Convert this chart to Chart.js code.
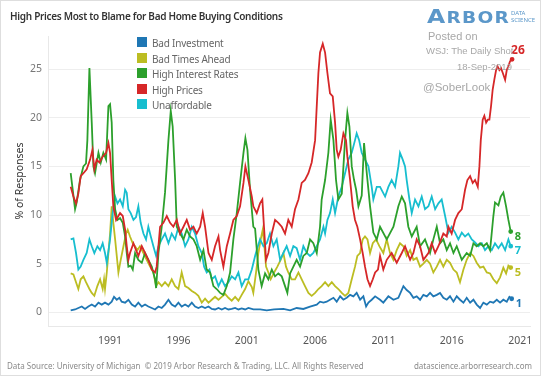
<!DOCTYPE html>
<html>
<head>
<meta charset="utf-8">
<script src="https://cdn.jsdelivr.net/npm/chart.js@4.4.1/dist/chart.umd.min.js"></script>
<style>
  html, body { margin: 0; padding: 0; background: #fff; }
  #frame { position: relative; width: 541px; height: 376px; overflow: hidden; font-family: "Noto Sans", sans-serif; }
  #frame canvas { position: absolute; left: 0; top: 0; }
  #border { position: absolute; left: 0; top: 0; right: 0; bottom: 0; border: 1px solid #dedede; pointer-events: none; }
  .t { position: absolute; white-space: nowrap; line-height: 1; }
  #title { left: 10px; top: 11px; font-size: 10px; font-weight: 600; letter-spacing: -0.3px; color: #333; }
  #logo { left: 427px; top: 7px; color: #5b97c9; font-weight: 700; font-family: "DejaVu Sans", sans-serif; letter-spacing: 1px; transform: scaleX(1.24); transform-origin: 0 0; }
  #logo .big { font-size: 19px; }
  #logo .small { font-size: 15px; }
  #logoSub { left: 511px; top: 10px; font-size: 6px; line-height: 7px; color: #5b97c9; }
  .note { color: #a8a8a8; font-family: "Liberation Sans", sans-serif; }
  .foot { top: 362px; font-size: 8px; color: #8a8a8a; }
  #legend { position: absolute; left: 137px; top: 36px; }
  .row { position: relative; height: 15.5px; font-size: 10px; letter-spacing: -0.2px; color: #666; }
  .sw { position: absolute; left: 0; top: 1px; width: 10px; height: 10px; }
  .lab { position: absolute; left: 15px; top: 0; white-space: nowrap; }
</style>
</head>
<body>
<div id="frame">
  <canvas id="chart" width="541" height="376"></canvas>
  <div class="t" id="title">High Prices Most to Blame for Bad Home Buying Conditions</div>
  <div class="t" id="logo"><span class="big">A</span><span class="small">RBOR</span></div>
  <div class="t" id="logoSub">DATA<br>SCIENCE</div>
  <div class="t note" style="left:428px;top:31px;font-size:11px;">Posted on</div>
  <div class="t note" style="left:426px;top:46px;font-size:9.5px;">WSJ: The Daily Shot</div>
  <div class="t note" style="left:457px;top:62px;font-size:9.5px;">18-Sep-2019</div>
  <div class="t note" style="left:423px;top:82px;font-size:11.5px;">@SoberLook</div>
  <div class="t foot" style="left:7px;">Data Source: University of Michigan &nbsp;© 2019 Arbor Research &amp; Trading, LLC. All Rights Reserved</div>
  <div class="t foot" style="right:9px;">datascience.arborresearch.com</div>
  <div id="legend"></div>
  <div id="border"></div>
</div>
<script>
// Share of responses (%) by reason, [year, value]
const badInvestment = [
  [1988.12,0.2],[1988.44,0.3],[1988.68,0.45],[1988.93,0.6],[1989.17,0.35],[1989.41,0.6],[1989.66,0.8],[1989.9,0.6],
  [1990.15,1.0],[1990.39,0.8],[1990.63,1.0],[1990.88,0.8],[1991.12,1.1],[1991.29,1.6],[1991.49,1.3],[1991.68,1.5],
  [1991.85,1.1],[1992.1,1.0],[1992.34,1.3],[1992.59,0.8],[1992.83,0.6],[1993.07,1.0],[1993.32,0.6],[1993.56,0.8],
  [1993.8,0.6],[1994.05,0.45],[1994.29,0.3],[1994.54,0.6],[1994.78,0.45],[1995.02,0.8],[1995.27,1.3],[1995.51,0.8],
  [1995.76,0.6],[1996.0,1.0],[1996.24,0.6],[1996.49,0.8],[1996.73,0.6],[1996.98,1.0],[1997.22,0.6],[1997.46,0.45],
  [1997.71,0.6],[1997.95,0.45],[1998.2,0.6],[1998.44,0.35],[1998.68,0.3],[1998.93,0.45],[1999.17,0.3],[1999.41,0.45],
  [1999.66,0.3],[1999.9,0.35],[2000.15,0.45],[2000.39,0.3],[2000.63,0.4],[2000.88,0.3],[2001.12,0.45],[2001.49,0.3],
  [2001.98,0.3],[2002.46,0.2],[2003.0,0.3],[2003.68,0.35],[2004.17,0.2],[2004.65,0.45],[2005.14,0.35],[2005.63,0.6],
  [2006.12,0.8],[2006.36,1.1],[2006.61,1.0],[2006.85,1.1],[2007.09,1.3],[2007.34,1.5],[2007.58,1.1],[2007.83,1.65],
  [2008.07,1.3],[2008.31,1.5],[2008.56,1.8],[2008.8,1.65],[2009.04,2.0],[2009.29,1.3],[2009.53,1.65],[2009.73,0.6],
  [2009.9,1.0],[2010.14,1.3],[2010.39,1.65],[2010.75,1.3],[2010.99,1.0],[2011.36,1.65],[2011.73,1.3],[2012.09,1.5],
  [2012.46,2.7],[2012.7,2.3],[2012.95,2.0],[2013.19,1.5],[2013.43,1.65],[2013.68,1.3],[2013.92,1.8],[2014.17,1.65],
  [2014.41,2.0],[2014.65,1.65],[2014.9,1.8],[2015.14,2.0],[2015.38,1.5],[2015.63,1.3],[2015.87,1.65],[2016.12,1.1],
  [2016.36,1.65],[2016.6,1.3],[2016.85,1.0],[2017.09,1.5],[2017.34,1.0],[2017.58,1.3],[2017.82,0.8],[2018.07,0.45],
  [2018.31,1.0],[2018.56,0.8],[2018.8,1.1],[2019.04,1.0],[2019.29,1.3],[2019.53,1.0],[2019.77,1.3],[2020.02,1.1],
  [2020.21,1.6],[2020.38,1.4]
];

const badTimesAhead = [
  [1988.12,4.0],[1988.32,3.9],[1988.51,3.1],[1988.68,2.4],[1988.85,3.4],[1989.05,3.7],[1989.24,3.1],[1989.49,2.4],
  [1989.66,2.0],[1989.85,1.7],[1990.07,2.7],[1990.27,3.4],[1990.46,2.4],[1990.56,3.4],[1990.63,2.4],[1990.76,4.1],
  [1990.88,6.1],[1991.0,8.1],[1991.12,10.9],[1991.24,9.2],[1991.37,7.5],[1991.49,5.8],[1991.61,4.1],[1991.78,5.4],
  [1991.98,6.8],[1992.17,8.1],[1992.29,8.5],[1992.46,7.8],[1992.66,7.1],[1992.83,6.8],[1993.0,6.4],[1993.19,6.8],
  [1993.44,6.1],[1993.68,5.4],[1993.93,4.7],[1994.17,4.1],[1994.37,2.7],[1994.54,3.1],[1994.78,2.7],[1995.02,3.1],
  [1995.27,2.7],[1995.51,3.4],[1995.76,2.7],[1996.0,2.4],[1996.24,4.1],[1996.49,2.7],[1996.73,2.5],[1996.98,2.2],
  [1997.22,2.0],[1997.46,1.7],[1997.71,1.0],[1997.95,1.4],[1998.2,1.0],[1998.44,1.3],[1998.68,1.6],[1998.93,1.3],
  [1999.17,1.6],[1999.41,1.9],[1999.66,1.5],[1999.9,1.2],[2000.15,1.6],[2000.39,1.2],[2000.63,1.8],[2000.88,2.4],
  [2001.12,3.2],[2001.37,2.6],[2001.48,2.0],[2001.68,4.1],[2001.85,6.1],[2002.02,7.5],[2002.17,8.5],[2002.29,6.8],
  [2002.41,4.7],[2002.58,4.1],[2002.75,3.4],[2003.0,4.1],[2003.24,4.7],[2003.48,5.4],[2003.68,6.1],[2003.87,4.7],
  [2004.04,4.1],[2004.29,3.4],[2004.53,3.4],[2004.78,4.1],[2005.02,3.4],[2005.26,2.7],[2005.51,2.0],[2005.75,1.7],
  [2006.0,2.0],[2006.24,2.4],[2006.48,2.7],[2006.73,3.1],[2006.97,2.7],[2007.22,3.1],[2007.46,2.7],[2007.7,2.4],
  [2007.95,2.0],[2008.19,1.7],[2008.43,2.0],[2008.68,3.4],[2008.92,4.7],[2009.09,5.8],[2009.29,6.1],[2009.48,7.5],
  [2009.65,7.8],[2009.83,7.5],[2010.02,6.1],[2010.22,7.1],[2010.46,7.5],[2010.7,6.8],[2010.99,6.1],[2011.24,7.5],
  [2011.48,6.1],[2011.73,5.4],[2011.97,6.4],[2012.21,7.1],[2012.46,6.8],[2012.7,5.8],[2012.95,6.4],[2013.19,5.4],
  [2013.43,5.6],[2013.68,4.7],[2013.92,5.0],[2014.17,5.4],[2014.41,5.0],[2014.65,4.1],[2014.9,4.7],[2015.14,5.4],
  [2015.38,4.7],[2015.63,5.4],[2015.87,5.1],[2016.12,4.4],[2016.36,4.1],[2016.6,3.1],[2016.85,4.4],[2017.09,5.4],
  [2017.34,6.1],[2017.58,5.8],[2017.82,5.1],[2018.07,4.6],[2018.31,4.7],[2018.56,4.1],[2018.8,4.0],[2019.04,3.4],
  [2019.29,3.0],[2019.53,3.6],[2019.77,4.6],[2019.97,4.0],[2020.14,4.8],[2020.31,4.6]
];

const highInterestRates = [
  [1988.12,14.3],[1988.44,10.6],[1988.56,11.3],[1988.8,13.6],[1989.05,15.0],[1989.24,15.3],[1989.34,17.7],[1989.49,25.1],
  [1989.66,19.5],[1989.78,15.0],[1989.9,14.3],[1990.15,16.4],[1990.32,15.4],[1990.51,16.4],[1990.71,15.7],[1990.88,21.2],
  [1991.0,21.4],[1991.12,19.5],[1991.24,13.6],[1991.37,10.6],[1991.54,9.5],[1991.73,9.7],[1991.93,9.2],[1992.1,7.8],
  [1992.22,6.1],[1992.34,4.7],[1992.51,4.8],[1992.66,4.4],[1992.83,6.1],[1993.07,5.4],[1993.32,5.1],[1993.56,6.1],
  [1993.8,5.4],[1994.05,4.7],[1994.29,3.4],[1994.37,2.5],[1994.54,6.1],[1994.78,8.8],[1995.02,12.3],[1995.27,17.7],
  [1995.44,20.7],[1995.58,19.1],[1995.76,13.6],[1995.88,8.8],[1996.12,8.1],[1996.37,7.5],[1996.61,8.5],[1996.85,7.8],
  [1997.1,7.5],[1997.34,6.8],[1997.59,5.4],[1997.83,6.4],[1998.07,4.4],[1998.32,4.1],[1998.56,2.7],[1998.8,2.4],
  [1999.05,2.0],[1999.29,1.8],[1999.54,2.7],[1999.78,4.1],[2000.02,7.5],[2000.27,10.2],[2000.51,13.3],[2000.76,16.4],
  [2000.9,17.9],[2001.05,16.7],[2001.24,12.6],[2001.48,8.8],[2001.61,8.6],[2001.85,4.4],[2002.09,2.7],[2002.34,4.0],
  [2002.58,3.4],[2002.83,4.4],[2003.07,3.7],[2003.31,4.0],[2003.56,3.7],[2003.8,2.7],[2003.97,2.0],[2004.17,4.0],
  [2004.41,4.7],[2004.65,5.4],[2004.9,4.7],[2005.14,5.8],[2005.39,6.1],[2005.63,7.5],[2005.87,7.1],[2006.12,6.1],
  [2006.36,8.8],[2006.48,11.6],[2006.73,13.6],[2006.97,16.4],[2007.14,19.8],[2007.34,17.7],[2007.53,13.6],[2007.7,11.6],
  [2007.95,12.2],[2008.19,17.7],[2008.36,20.5],[2008.51,19.1],[2008.68,15.0],[2008.85,13.6],[2009.0,12.6],[2009.17,10.9],
  [2009.41,12.0],[2009.58,17.4],[2009.78,14.3],[2010.02,10.9],[2010.26,8.2],[2010.51,7.5],[2010.75,8.8],[2011.24,7.5],
  [2011.73,8.8],[2012.09,10.9],[2012.34,11.9],[2012.58,11.2],[2012.82,8.8],[2013.07,7.8],[2013.43,8.8],[2013.68,6.8],
  [2014.04,7.5],[2014.41,6.1],[2014.65,7.5],[2014.9,8.8],[2015.14,7.1],[2015.38,7.5],[2015.63,6.4],[2015.87,7.1],
  [2016.12,6.1],[2016.36,6.8],[2016.73,5.4],[2017.09,6.1],[2017.34,5.8],[2017.58,7.1],[2017.82,6.8],[2018.07,7.1],
  [2018.31,6.8],[2018.56,7.1],[2018.8,6.4],[2019.04,9.9],[2019.16,11.3],[2019.41,11.0],[2019.58,11.9],[2019.77,12.3],
  [2019.97,10.9],[2020.14,9.5],[2020.31,8.3]
];

const highPrices = [
  [1988.12,12.9],[1988.32,11.9],[1988.51,11.2],[1988.68,12.2],[1988.85,14.0],[1989.05,14.3],[1989.29,14.7],[1989.54,15.7],
  [1989.71,16.7],[1989.85,14.7],[1990.02,15.7],[1990.22,15.4],[1990.46,16.0],[1990.71,16.4],[1990.88,17.4],[1991.0,16.4],
  [1991.12,13.6],[1991.24,10.9],[1991.44,9.5],[1991.61,9.9],[1991.73,10.2],[1991.93,9.9],[1992.1,8.5],[1992.22,6.8],
  [1992.34,5.4],[1992.46,6.1],[1992.71,7.1],[1992.9,6.4],[1993.07,5.8],[1993.32,6.8],[1993.56,6.1],[1993.8,5.4],
  [1994.05,4.4],[1994.29,4.1],[1994.41,4.7],[1994.66,8.8],[1994.9,9.2],[1995.15,9.9],[1995.39,9.2],[1995.63,8.8],
  [1995.88,9.5],[1996.12,8.1],[1996.37,8.8],[1996.61,9.5],[1996.85,8.5],[1997.1,8.8],[1997.34,8.1],[1997.59,8.8],
  [1997.78,10.2],[1997.95,8.8],[1998.2,6.1],[1998.44,5.4],[1998.68,6.8],[1998.93,7.8],[1999.05,6.4],[1999.29,4.7],
  [1999.54,6.8],[1999.78,8.1],[2000.02,9.5],[2000.27,9.9],[2000.51,10.9],[2000.76,13.3],[2000.9,15.0],[2001.12,13.6],
  [2001.37,11.9],[2001.48,10.9],[2001.73,10.2],[2001.97,11.2],[2002.14,11.6],[2002.26,8.8],[2002.41,5.4],[2002.58,6.1],
  [2002.83,8.1],[2003.07,9.5],[2003.31,9.2],[2003.56,8.8],[2003.8,8.1],[2004.04,9.5],[2004.29,8.8],[2004.53,10.6],
  [2004.78,11.6],[2005.02,13.3],[2005.26,13.6],[2005.51,14.3],[2005.75,15.4],[2006.0,17.7],[2006.12,21.2],[2006.24,24.6],
  [2006.36,26.7],[2006.56,27.6],[2006.73,26.7],[2006.9,24.6],[2007.09,22.5],[2007.29,22.2],[2007.46,19.5],[2007.58,16.7],
  [2007.7,16.0],[2007.87,16.7],[2008.07,18.4],[2008.26,17.7],[2008.36,16.0],[2008.56,13.6],[2008.75,10.9],[2008.92,9.5],
  [2009.09,8.8],[2009.29,7.5],[2009.48,6.1],[2009.65,4.7],[2009.83,3.4],[2010.02,2.7],[2010.22,3.4],[2010.39,4.1],
  [2010.6,4.4],[2010.75,5.8],[2010.99,4.4],[2011.24,5.4],[2011.6,6.1],[2011.97,5.1],[2012.34,6.1],[2012.58,6.8],
  [2012.95,5.4],[2013.19,6.1],[2013.43,7.5],[2013.68,6.8],[2013.92,5.4],[2014.29,6.1],[2014.53,7.1],[2014.78,6.1],
  [2015.02,6.8],[2015.38,8.1],[2015.63,7.8],[2015.75,8.8],[2015.99,8.1],[2016.24,9.5],[2016.48,10.2],[2016.73,10.6],
  [2016.97,12.6],[2017.14,13.6],[2017.34,14.0],[2017.53,13.3],[2017.7,13.6],[2017.9,12.9],[2018.02,15.0],[2018.12,17.7],
  [2018.26,19.8],[2018.38,20.2],[2018.51,19.5],[2018.63,19.8],[2018.75,19.8],[2018.87,21.2],[2018.99,22.9],[2019.12,24.0],
  [2019.24,24.9],[2019.34,25.3],[2019.48,24.9],[2019.6,25.1],[2019.73,24.6],[2019.9,23.9],[2020.02,24.9],[2020.14,25.3],
  [2020.26,25.8],[2020.41,26.0]
];

const unaffordable = [
  [1988.12,7.5],[1988.32,7.6],[1988.51,6.1],[1988.68,4.4],[1988.85,4.7],[1989.05,5.4],[1989.29,6.1],[1989.49,7.5],
  [1989.66,6.8],[1989.85,6.1],[1990.07,6.8],[1990.27,6.4],[1990.46,7.1],[1990.63,6.1],[1990.76,5.1],[1991.0,7.5],
  [1991.19,10.2],[1991.37,11.9],[1991.54,11.2],[1991.73,11.6],[1991.93,10.9],[1992.1,12.6],[1992.22,12.3],[1992.34,10.6],
  [1992.51,10.2],[1992.71,9.5],[1992.9,9.8],[1993.07,10.9],[1993.24,9.2],[1993.44,8.1],[1993.63,7.5],[1993.8,8.8],
  [1993.98,7.8],[1994.17,6.8],[1994.37,5.8],[1994.54,6.8],[1994.78,7.5],[1995.02,8.1],[1995.27,7.1],[1995.51,8.1],
  [1995.76,7.5],[1996.0,8.8],[1996.24,8.1],[1996.49,6.8],[1996.73,7.5],[1996.98,8.8],[1997.22,8.1],[1997.46,6.8],
  [1997.71,6.1],[1997.88,4.7],[1998.07,4.1],[1998.27,4.4],[1998.44,3.4],[1998.68,3.7],[1998.93,2.7],[1999.17,3.4],
  [1999.41,2.7],[1999.66,3.1],[1999.9,3.7],[2000.15,3.4],[2000.39,4.1],[2000.63,2.7],[2000.88,3.4],[2001.12,3.4],
  [2001.37,4.4],[2001.61,5.8],[2001.73,6.4],[2001.97,7.5],[2002.22,6.8],[2002.46,7.1],[2002.7,8.1],[2002.95,6.8],
  [2003.19,7.5],[2003.44,5.4],[2003.68,6.1],[2003.92,6.8],[2004.17,5.8],[2004.41,6.8],[2004.65,6.6],[2004.9,5.4],
  [2005.14,6.8],[2005.39,6.1],[2005.63,5.8],[2005.87,6.1],[2006.12,6.8],[2006.36,7.5],[2006.61,8.8],[2006.73,8.1],
  [2006.9,9.5],[2007.09,10.2],[2007.29,11.6],[2007.46,10.2],[2007.7,11.9],[2007.95,12.9],[2008.19,14.3],[2008.43,15.7],
  [2008.68,16.4],[2008.92,17.7],[2009.04,18.4],[2009.22,17.7],[2009.41,16.4],[2009.65,15.7],[2009.9,15.0],[2010.14,12.9],
  [2010.26,11.6],[2010.51,12.9],[2010.75,12.9],[2011.12,11.9],[2011.36,12.9],[2011.6,13.6],[2011.85,12.9],[2012.09,15.0],
  [2012.21,16.4],[2012.41,15.7],[2012.58,15.0],[2012.7,13.6],[2012.9,11.6],[2013.07,10.2],[2013.31,11.6],[2013.56,10.9],
  [2013.8,11.9],[2014.04,10.6],[2014.29,10.9],[2014.53,11.9],[2014.78,10.6],[2015.02,11.2],[2015.26,11.6],[2015.51,9.9],
  [2015.75,8.2],[2015.99,8.8],[2016.24,8.2],[2016.48,7.5],[2016.73,8.2],[2016.97,7.8],[2017.21,8.1],[2017.46,7.5],
  [2017.7,7.2],[2017.95,6.8],[2018.19,7.1],[2018.43,6.4],[2018.68,6.8],[2018.92,6.4],[2019.16,7.1],[2019.41,6.6],
  [2019.65,7.1],[2019.9,6.4],[2020.14,7.5],[2020.31,6.8]
];

const seriesNames = ["Bad Investment", "Bad Times Ahead", "High Interest Rates", "High Prices", "Unaffordable"];
const seriesColors = ["#1f77b4", "#bcbd22", "#2ca02c", "#d62728", "#17becf"];
const seriesData = [badInvestment, badTimesAhead, highInterestRates, highPrices, unaffordable];
const drawOrder = [5, 4, 2, 1, 3];
// end label nudges (px)
const labelNudge = [[4, 5], [4, 5], [4, 5], [-1, -9], [4, 5]];

const xTickYears = [1991, 1996, 2001, 2006, 2011, 2016, 2021];
const yTickValues = [0, 5, 10, 15, 20, 25];

// legend
const legendEl = document.getElementById("legend");
seriesNames.forEach((name, i) => {
  const row = document.createElement("div");
  row.className = "row";
  row.innerHTML = '<span class="sw" style="background:' + seriesColors[i] + '"></span><span class="lab">' + name + '</span>';
  legendEl.appendChild(row);
});

const endLabels = {
  id: "endLabels",
  afterDatasetsDraw(chart) {
    const { ctx, scales } = chart;
    chart.data.datasets.forEach((ds, i) => {
      const last = ds.data[ds.data.length - 1];
      const px = scales.x.getPixelForValue(last.x);
      const py = scales.y.getPixelForValue(last.y);
      ctx.save();
      ctx.font = (i === 3 ? "bold 12px" : "bold 11px") + ' "Noto Sans", sans-serif';
      ctx.fillStyle = ds.borderColor;
      ctx.textBaseline = "middle";
      ctx.textAlign = "left";
      ctx.fillText(String(Math.round(last.y)), px + labelNudge[i][0], py + labelNudge[i][1]);
      ctx.restore();
    });
  }
};

const datasets = seriesData.map((rows, i) => ({
  label: seriesNames[i],
  data: rows.map(r => ({ x: r[0], y: r[1] })),
  borderColor: seriesColors[i],
  backgroundColor: seriesColors[i],
  borderWidth: 1.8,
  tension: 0,
  order: drawOrder[i],
  pointRadius: ctx => (ctx.dataIndex === rows.length - 1 ? 1.5 : 0),
  pointHoverRadius: 0,
  fill: false
}));

new Chart(document.getElementById("chart"), {
  type: "line",
  data: { datasets: datasets },
  plugins: [endLabels],
  options: {
    responsive: false,
    animation: false,
    devicePixelRatio: 1,
    layout: { padding: { top: 36, right: 11, left: 0, bottom: 0 } },
    plugins: { legend: { display: false }, tooltip: { enabled: false } },
    scales: {
      x: {
        type: "linear",
        min: 1986.46,
        max: 2021.72,
        afterFit: s => { s.height = 50; },
        afterBuildTicks: s => { s.ticks = xTickYears.map(v => ({ value: v })); },
        grid: { display: false },
        border: { display: true, color: "#e8e8e8" },
        ticks: {
          autoSkip: false,
          maxRotation: 0,
          padding: 1,
          color: "#555",
          font: { size: 10.5, family: '"Noto Sans", sans-serif' },
          callback: v => String(v)
        }
      },
      y: {
        min: -1.4,
        max: 28.4,
        afterFit: s => { s.width = 48; },
        afterBuildTicks: s => { s.ticks = yTickValues.map(v => ({ value: v })); },
        grid: { color: "#eeeeee", drawTicks: false },
        border: { display: true, color: "#e8e8e8" },
        ticks: {
          padding: 6,
          color: "#777",
          font: { size: 10.5, family: '"Noto Sans", sans-serif' }
        },
        title: {
          display: true,
          text: "% of Responses",
          color: "#333",
          padding: { top: 14, bottom: 0 },
          font: { size: 10.5, family: '"Noto Sans", sans-serif' }
        }
      }
    }
  }
});
</script>
</body>
</html>
